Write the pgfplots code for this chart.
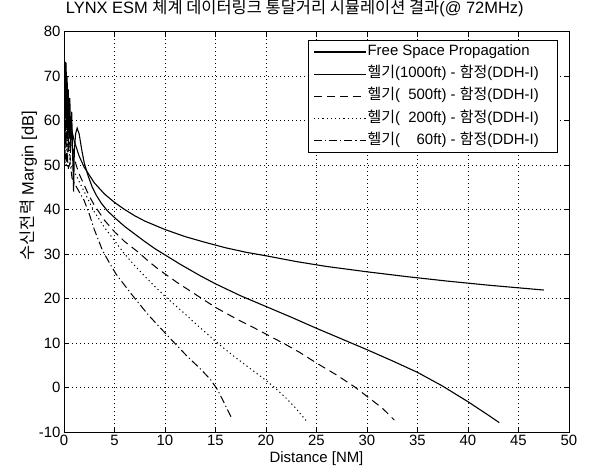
\documentclass[border=0pt]{standalone}
\usepackage{fontspec}
\setmainfont{Liberation Sans}
\newfontfamily\kr{Noto Sans CJK KR}
\usepackage{pgfplots}
\pgfplotsset{compat=1.18}
\newcommand\lt[1]{\makebox[184bp][l]{#1}}
\begin{document}
\begin{tikzpicture}
\begin{axis}[
  name=ax,
  scale only axis,
  width=505bp, height=400.5bp,
  xmin=0, xmax=50, ymin=-10, ymax=80,
  xtick={0,5,...,50}, ytick={-10,0,...,80},
  font=\fontsize{15}{18}\selectfont,
  /pgf/number format/assume math mode=true,
  tick align=inside,
  major tick length=5bp,
  tick style={black, line width=0.6bp},
  axis line style={black, line width=0.8bp},
  grid=major,
  grid style={black, line width=0.6bp, dash pattern=on 1bp off 3bp},
  title={LYNX ESM {\kr 체계 데이터링크 통달거리 시뮬레이션 결과}(@ 72MHz)},
  title style={at={(0.457,1.031)}, anchor=base, font=\fontsize{16.5}{19}\selectfont},
  xlabel={Distance [NM]},
  xlabel style={at={(0.5,-0.0774)}, anchor=base},
  ylabel={{\kr 수신전력} Margin [dB]},
  ylabel style={at={(-0.0703,0.615)}, anchor=center, font=\fontsize{16.5}{19}\selectfont},
  legend cell align=left,
  legend image code/.code={\draw[#1] (0bp,0bp) -- (52bp,0bp);},
  legend style={at={(1,1)}, anchor=north east, xshift=-11bp, yshift=-8.5bp,
    draw=black, line width=0.8bp, inner xsep=5bp, inner ysep=0.5bp,
    font=\fontsize{15}{18}\selectfont,
    column sep=0pt,
    /tikz/every odd column/.append style={column sep=0pt},
    /tikz/every even column/.append style={column sep=0pt},
    nodes={inner ysep=3.8bp, inner xsep=1bp, text height=11bp, text depth=3.5bp}},
]
% Free space
\addplot[black, line width=1.1bp] coordinates {
(0.13,73.2)(0.15,72.0)(0.2,69.5)(0.3,66.0)(0.4,63.5)(0.5,61.5)(0.7,58.6)(1,55.5)(1.5,52.0)(2,49.5)(3,46.0)(4,43.5)(5,41.6)(6,40.0)(7,38.6)(8,37.4)(10,35.5)(12,33.9)(14,32.6)(16,31.4)(18,30.4)(20,29.6)(23,28.3)(26,27.2)(30,26.0)(34,24.9)(38,23.9)(42,23.0)(45,22.4)(47.5,21.9)
};
\addlegendentry{\lt{Free Space Propagation}}
% 1000 ft
\addplot[black, line width=1.1bp] coordinates {
(0.1,62)(0.13,72)(0.17,61)(0.21,73)(0.26,60)(0.31,70)(0.37,57)(0.43,67)(0.5,56)(0.58,65)(0.66,54)(0.76,62)(0.86,52)(0.95,44)(1.02,53)(1.15,57)(1.3,58.3)(1.5,57)(1.75,53.5)(2.0,50.5)(2.4,47.5)(2.8,45.0)(3.2,43.2)(3.7,41.4)(4.3,39.7)(5,38.2)(6,36.2)(7,34.5)(8,32.8)(9,31.2)(10,29.8)(11.5,27.7)(13.5,25.1)(15,23.3)(17.5,20.6)(20,18.2)(22.5,15.8)(25,13.3)(27.5,10.9)(30,8.5)(32.5,6.0)(35,3.4)(37.5,0.3)(40,-3.2)(42,-6.2)(43.1,-7.9)
};
\addlegendentry{\lt{{\kr 헬기}(1000ft) - {\kr 함정}(DDH-I)}}
% 500 ft
\addplot[black, line width=1bp, dash pattern=on 8bp off 5bp] coordinates {
(0.1,58)(0.13,66)(0.17,56)(0.22,68)(0.28,55)(0.35,64)(0.43,53)(0.52,62)(0.62,51)(0.72,59)(0.85,55)(1.0,52)(1.2,50)(1.5,48)(2,45.5)(2.5,43)(3,41)(4,37.6)(5,35)(6,32.8)(7.36,30.4)(8.4,28.3)(9.34,26.6)(10.2,25.2)(11.2,23.6)(13.1,20.8)(15,18.0)(17,15.5)(19,13.2)(20,12.0)(22,9.6)(23.4,7.8)(25,5.5)(27,2.8)(28.8,0.1)(30,-2.0)(31.5,-4.6)(32.7,-7.3)
};
\addlegendentry{\lt{{\kr 헬기}(\hphantom{1}500ft) - {\kr 함정}(DDH-I)}}
% 200 ft
\addplot[black, line width=1bp, dash pattern=on 1.2bp off 3bp] coordinates {
(0.1,57)(0.14,63)(0.2,54)(0.27,61)(0.36,52)(0.46,57)(0.6,50)(0.8,49.5)(1.0,48.5)(1.5,46.3)(2,44)(3,39.5)(4,36)(5,33)(6,30)(7,27.4)(8,25)(9,22.7)(10,20.5)(11,18.5)(12,16.5)(13,14.4)(14,12.4)(15,10.4)(16,8.5)(17,6.7)(18,5.0)(19,3.3)(20,1.6)(21,-0.3)(22,-2.4)(23,-4.8)(24,-7.5)
};
\addlegendentry{\lt{{\kr 헬기}(\hphantom{1}200ft) - {\kr 함정}(DDH-I)}}
% 60 ft
\addplot[black, line width=1bp, dash pattern=on 8bp off 3bp on 1.2bp off 3bp] coordinates {
(0.08,60)(0.1,50.5)(0.15,57)(0.22,50)(0.3,55)(0.4,49)(0.6,50.5)(0.8,47)(1.0,46)(1.5,44)(2,42)(2.5,39)(3,35.5)(3.83,30.7)(4.5,28)(5.15,25.5)(6.6,21.2)(8.35,16.3)(10.4,11.3)(12.2,7.0)(13.5,4.2)(14.5,1.8)(15.2,-0.5)(15.8,-3.2)(16.6,-6.9)
};
\addlegendentry{\lt{{\kr 헬기}(\hphantom{10}60ft) - {\kr 함정}(DDH-I)}}
\end{axis}
\pgfresetboundingbox
\path (ax.south west) ++(-64bp,-43bp) rectangle ++(589bp,475bp);
\end{tikzpicture}
\end{document}
